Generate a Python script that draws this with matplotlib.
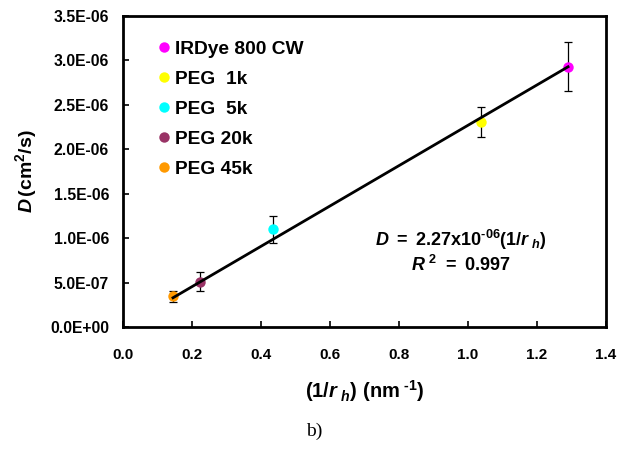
import matplotlib
matplotlib.use("Agg")
import matplotlib.pyplot as plt
import numpy as np

# Data
labels = ["IRDye 800 CW", "PEG  1k", "PEG  5k", "PEG 20k", "PEG 45k"]
inv_rh = [1.29, 1.038, 0.434, 0.223, 0.145]
D_vals = [2.93e-6, 2.31e-6, 1.10e-6, 0.51e-6, 0.345e-6]
D_err = [0.275e-6, 0.17e-6, 0.15e-6, 0.11e-6, 0.06e-6]
colors = ["#FF00FF", "#FFFF00", "#00FFFF", "#993366", "#FF9900"]
slope = 2.27e-6
xticks = [0.0, 0.2, 0.4, 0.6, 0.8, 1.0, 1.2, 1.4]
yticks = [0.0, 0.5e-6, 1.0e-6, 1.5e-6, 2.0e-6, 2.5e-6, 3.0e-6, 3.5e-6]

plt.rcParams['font.family'] = ['Liberation Sans', 'DejaVu Sans']
plt.rcParams['font.weight'] = 'bold'
plt.rcParams['mathtext.fontset'] = 'custom'
plt.rcParams['mathtext.rm'] = 'Liberation Sans:bold'
plt.rcParams['mathtext.it'] = 'Liberation Sans:bold:italic'
plt.rcParams['mathtext.bf'] = 'Liberation Sans:bold'

fig = plt.figure(figsize=(6.23, 4.54), dpi=100)
ax = fig.add_axes([0.1974, 0.2797, 0.9727 - 0.1974, 0.9648 - 0.2797])

for x, y, e, c, lab in zip(inv_rh, D_vals, D_err, colors, labels):
    ax.errorbar(x, y, yerr=e, fmt='none', ecolor='black', elinewidth=0.9,
                capsize=3.0, capthick=0.9, zorder=2)
    ax.plot(x, y, 'o', color=c, markersize=7.5, label=lab, zorder=3,
            markeredgewidth=0)

xfit = np.array([min(inv_rh), max(inv_rh)])
ax.plot(xfit, slope * xfit, color='black', linewidth=2.0, zorder=4)

ax.set_xlim(0, 1.4)
ax.set_ylim(0, 3.5e-6)
ax.set_xticks(xticks)
ax.set_yticks(yticks)
ax.set_xticklabels([f"{t:.1f}" for t in xticks], fontsize=11, fontweight='bold')
ax.set_yticklabels([f"{t:.1E}" for t in yticks], fontsize=11.3, fontweight='bold')
ax.tick_params(axis='both', direction='in', length=4, width=1.2, top=False, right=False)
ax.tick_params(axis='x', pad=15)
ax.tick_params(axis='y', pad=10)

for s in ax.spines.values():
    s.set_linewidth(2.0)

HY = '\u2010'
ax.set_xlabel(r'$(1/r_{\ h})\ (\mathrm{nm}^{\ ' + HY + r'1})$', fontsize=14.5, labelpad=12)
ax.set_ylabel(r'$D\,(\mathrm{cm}^2\mathrm{/s})$', fontsize=14, labelpad=8)

ax.text(0.70, 0.28, r'$D\ =\ 2.27\mathrm{x}10^{' + HY + r'06}(1/r_{\ h})$',
        transform=ax.transAxes, ha='center', va='center', fontsize=13)
ax.text(0.70, 0.20, r'$R^{\ 2}\ =\ 0.997$', transform=ax.transAxes,
        ha='center', va='center', fontsize=13)

leg = ax.legend(loc='upper left', bbox_to_anchor=(0.055, 0.945), frameon=False,
                handletextpad=0.25, labelspacing=0.65, fontsize=13.8,
                handlelength=0.7, borderaxespad=0)
for t in leg.get_texts():
    t.set_fontweight('bold')

fig.text(0.504, 0.049, "b)", ha='center', va='center', fontsize=14,
         family='Liberation Serif', fontweight='normal')

fig.savefig("out.png", dpi=100)
